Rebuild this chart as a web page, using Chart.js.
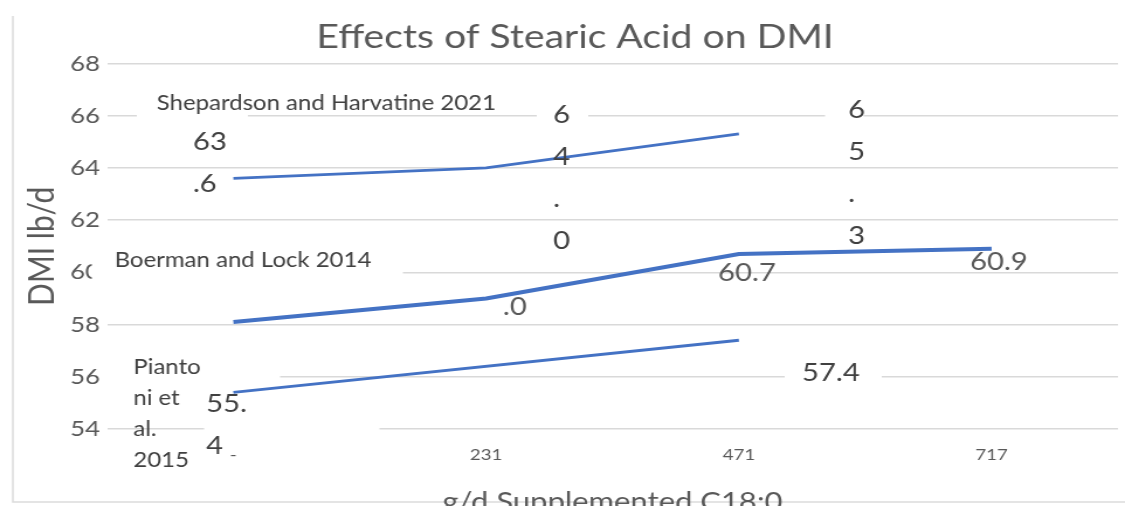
<!DOCTYPE html>
<html>
<head>
<meta charset="utf-8">
<script src="https://cdn.jsdelivr.net/npm/chart.js@4/dist/chart.umd.min.js"></script>
<style>
  html, body { margin: 0; padding: 0; background: #fff; overflow: hidden; }
  /* the drawing surface is rendered narrower and shown stretched to 1125px */
  #wrap { width: 962px; height: 506px; transform: scaleX(1.16944); transform-origin: 0 0; }
  #c { display: block; }
</style>
</head>
<body>
<div id="wrap"><canvas id="c" width="962" height="506"></canvas></div>
<script>
// ---- data ----
const chartTitle = 'Effects of Stearic Acid on DMI';
const xTitle = 'g/d Supplemented C18:0';
const yTitle = 'DMI lb/d';
const categories = ['-', '231', '471', '717'];
const yTickLabels = [54, 56, 58, 60, 62, 64, 66, 68];
const seriesNames = ['Shepardson and Harvatine 2021', 'Boerman and Lock 2014', 'Piantoni et al. 2015'];
const shepardson = [63.6, 64.0, 65.3];
const boerman = [58.1, 59.0, 60.7, 60.9];
const piantoni = [55.4, null, 57.4];

// ---- styles ----
const FONT = 'Lato';
const BLUE = '#4472C4';
const GREY = '#595959';
const DARK = '#404040';

// series name captions (canvas coordinates, left edge / first line middle)
const nameStyles = [
  { x: 134, y: 103.5, size: 20.5, color: DARK, wrap: 0, lineHeight: 31 },
  { x: 98, y: 260.5, size: 20.5, color: DARK, wrap: 0, lineHeight: 31 },
  { x: 114, y: 367, size: 20.5, color: DARK, wrap: 62, lineHeight: 31 }
];

// value captions, offset from their point; narrow wrap widths stack the digits
const valueLabelStyles = [
  { ds: 0, i: 0, dx: -34.6, dy: -36.4, wrap: 32, color: DARK },
  { ds: 0, i: 1, dx: 57.2, dy: -52.9, wrap: 16, color: DARK },
  { ds: 0, i: 2, dx: 93.4, dy: -24.0, wrap: 16, color: DARK },
  { ds: 1, i: 1, dx: 14.4, dy: -33.5, wrap: 32, color: GREY, fromLine: 1 },
  { ds: 1, i: 2, dx: -17.8, dy: 18.9, wrap: 0, color: GREY },
  { ds: 1, i: 3, dx: -18.5, dy: 13.1, wrap: 0, color: GREY },
  { ds: 2, i: 0, dx: -23.4, dy: 11.5, wrap: 40, color: DARK },
  { ds: 2, i: 2, dx: 54.0, dy: 32.8, wrap: 0, color: DARK }
];
const valueFontSize = 25;
const valueLineHeight = 42;

// white caption backgrounds that interrupt the gridlines
const masks = [
  [117, 108, 95, 14], [459, 108, 44, 14], [705.5, 108, 33, 14],
  [78.5, 250, 266, 33], [91.5, 370, 148, 14], [174.5, 423, 150, 14], [671, 370, 83, 14]
];

function wrapText(ctx, text, maxW) {
  if (!maxW) return [text];
  const lines = [];
  let line = '';
  for (const word of text.split(' ')) {
    const cand = line ? line + ' ' + word : word;
    if (ctx.measureText(cand).width <= maxW) { line = cand; continue; }
    if (line) { lines.push(line); line = ''; }
    let w = word;
    while (w.length > 1 && ctx.measureText(w).width > maxW) {
      let k = w.length - 1;
      while (k > 1 && ctx.measureText(w.slice(0, k)).width > maxW) k--;
      lines.push(w.slice(0, k));
      w = w.slice(k);
    }
    line = w;
  }
  if (line) lines.push(line);
  return lines;
}

const annotate = {
  id: 'annotate',
  beforeDraw(chart) {
    const ctx = chart.ctx;
    ctx.save();
    ctx.fillStyle = '#ffffff';
    ctx.fillRect(0, 0, chart.width, chart.height);
    // chart frame (left and bottom edges)
    ctx.strokeStyle = '#dcdcdc';
    ctx.lineWidth = 1.5;
    ctx.beginPath();
    ctx.moveTo(11, 16);
    ctx.lineTo(11, 502);
    ctx.lineTo(chart.width, 502);
    ctx.stroke();
    ctx.restore();
  },
  beforeDatasetsDraw(chart) {
    const ctx = chart.ctx;
    ctx.save();
    ctx.fillStyle = '#ffffff';
    masks.forEach(([x, y, w, h]) => ctx.fillRect(x, y, w, h));
    ctx.restore();
  },
  afterDatasetsDraw(chart) {
    const ctx = chart.ctx;
    ctx.save();
    ctx.textBaseline = 'middle';

    // title
    ctx.font = `33.5px ${FONT}`;
    ctx.fillStyle = GREY;
    ctx.textAlign = 'center';
    ctx.fillText(chartTitle, 491.7, 37);
    ctx.textAlign = 'left';

    // series names
    chart.data.datasets.forEach((ds, k) => {
      const st = nameStyles[k];
      ctx.font = `${st.size}px ${FONT}`;
      ctx.fillStyle = st.color;
      wrapText(ctx, ds.label, st.wrap).forEach((ln, j) => {
        ctx.fillText(ln, st.x, st.y + j * st.lineHeight);
      });
    });

    // values
    ctx.font = `${valueFontSize}px ${FONT}`;
    valueLabelStyles.forEach(st => {
      const value = chart.data.datasets[st.ds].data[st.i];
      const pt = chart.getDatasetMeta(st.ds).data[st.i];
      const lines = wrapText(ctx, value.toFixed(1), st.wrap);
      ctx.fillStyle = st.color;
      lines.forEach((ln, j) => {
        if (j < (st.fromLine || 0)) return;
        ctx.fillText(ln, pt.x + st.dx, pt.y + st.dy + j * valueLineHeight);
      });
    });
    ctx.restore();
  }
};

new Chart(document.getElementById('c'), {
  type: 'line',
  data: {
    labels: categories,
    datasets: [
      { label: seriesNames[0], data: shepardson, borderColor: BLUE, borderWidth: 2.8 },
      { label: seriesNames[1], data: boerman, borderColor: BLUE, borderWidth: 4 },
      { label: seriesNames[2], data: piantoni, borderColor: BLUE, borderWidth: 2.8, spanGaps: true }
    ]
  },
  options: {
    responsive: false,
    animation: false,
    devicePixelRatio: 1,
    elements: { point: { radius: 0, hoverRadius: 0 }, line: { tension: 0, fill: false } },
    layout: { padding: { left: 0, right: 6, top: 63.5, bottom: 0 } },
    plugins: { legend: { display: false }, tooltip: { enabled: false }, title: { display: false } },
    scales: {
      x: {
        offset: true,
        grid: { display: false, drawTicks: false },
        border: { display: false },
        ticks: { color: GREY, font: { family: FONT, size: 16 }, padding: 16, maxRotation: 0, autoSkip: false },
        title: { display: true, text: xTitle, color: GREY, font: { family: FONT, size: 26.5 }, padding: { top: 0, bottom: -12.6 } },
        afterFit(scale) { scale.height = 77; }
      },
      y: {
        min: yTickLabels[0],
        max: yTickLabels[yTickLabels.length - 1],
        grid: { color: '#d9d9d9', lineWidth: 1.5, drawTicks: false },
        border: { display: false },
        ticks: { stepSize: yTickLabels[1] - yTickLabels[0], color: GREY, font: { family: FONT, size: 22 }, padding: 6 },
        title: { display: true, text: yTitle, color: GREY, font: { family: FONT, size: 30 }, padding: { top: 18, bottom: 0 } },
        afterFit(scale) { scale.width = 91.5; }
      }
    }
  },
  plugins: [annotate]
});
</script>
</body>
</html>
